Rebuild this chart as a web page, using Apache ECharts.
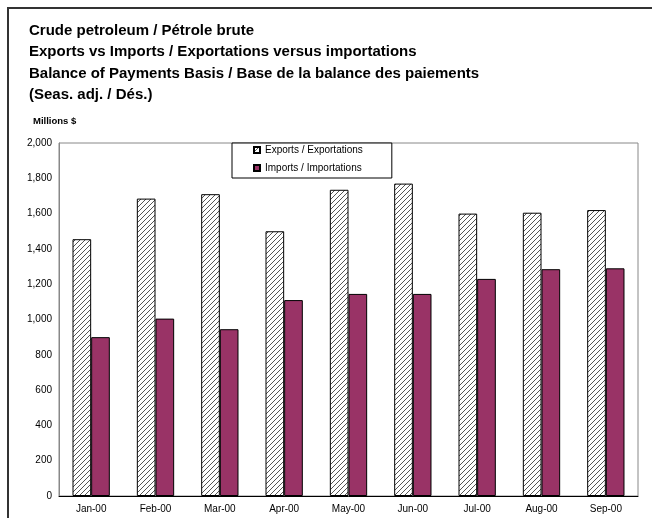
<!DOCTYPE html>
<html>
<head>
<meta charset="utf-8">
<script src="https://cdn.jsdelivr.net/npm/echarts@6/dist/echarts.min.js"></script>
<style>
  html, body { margin: 0; padding: 0; background: #fff; }
  #main { width: 652px; height: 518px; }
</style>
</head>
<body>
<div id="main"></div>
<script>
var months = ['Jan-00', 'Feb-00', 'Mar-00', 'Apr-00', 'May-00', 'Jun-00', 'Jul-00', 'Aug-00', 'Sep-00'];
var exportsData = [1455, 1685, 1710, 1500, 1735, 1770, 1600, 1605, 1620];
var importsData = [900, 1005, 945, 1110, 1145, 1145, 1230, 1285, 1290];
var seriesNames = ['Exports / Exportations', 'Imports / Importations'];
var yMin = 0, yMax = 2000, yStep = 200;

var font = '"Liberation Sans", Arial, sans-serif';

// little hatch tile for the exports bars
function hatch() {
  var s = 5;
  var c = document.createElement('canvas');
  c.width = s; c.height = s;
  var ctx = c.getContext('2d');
  ctx.fillStyle = '#fff';
  ctx.fillRect(0, 0, s, s);
  ctx.strokeStyle = '#555';
  ctx.lineWidth = 1;
  ctx.beginPath();
  ctx.moveTo(0, s); ctx.lineTo(s, 0);
  ctx.moveTo(-1, 1); ctx.lineTo(1, -1);
  ctx.moveTo(s - 1, s + 1); ctx.lineTo(s + 1, s - 1);
  ctx.stroke();
  return c;
}

var myChart = echarts.init(document.getElementById('main'));
var option = {
  animation: false,
  title: {
    text: 'Crude petroleum / Pétrole brute\nExports vs Imports / Exportations versus importations\nBalance of Payments Basis / Base de la balance des paiements\n(Seas. adj. / Dés.)',
    left: 29,
    top: 20,
    padding: 0,
    textStyle: {
      fontFamily: font,
      fontSize: 15,
      fontWeight: 'bold',
      color: '#000',
      lineHeight: 21.5
    }
  },
  graphic: [{
    type: 'rect',
    shape: { x: 8, y: 8, width: 700, height: 600 },
    style: { fill: 'none', stroke: '#333', lineWidth: 2 },
    silent: true
  }, {
    type: 'text',
    left: 33,
    top: 116,
    style: { text: 'Millions $', font: 'bold 9.5px ' + font, fill: '#000' }
  }],
  legend: {
    data: seriesNames,
    orient: 'vertical',
    left: 232,
    top: 143,
    padding: [2, 29, 5, 21],
    itemWidth: 6,
    itemHeight: 6,
    itemGap: 8,
    borderColor: '#000',
    borderWidth: 1,
    backgroundColor: '#fff',
    icon: 'rect',
    z: 10,
    textStyle: { fontFamily: font, fontSize: 10, color: '#000' }
  },
  grid: {
    left: 59,
    right: 14,
    top: 143,
    bottom: 22,
    show: true,
    borderColor: '#888',
    borderWidth: 1
  },
  xAxis: {
    type: 'category',
    data: months,
    axisLine: { lineStyle: { color: '#000', width: 1 } },
    axisTick: { length: 4, lineStyle: { color: '#000' } },
    axisLabel: { fontFamily: font, fontSize: 10, color: '#000', margin: 8 }
  },
  yAxis: {
    type: 'value',
    min: yMin,
    max: yMax,
    interval: yStep,
    axisLine: { show: true, lineStyle: { color: '#888' } },
    axisTick: { show: false },
    splitLine: { show: false },
    axisLabel: {
      fontFamily: font,
      fontSize: 10,
      color: '#000',
      margin: 7,
      formatter: function (v) { return v.toLocaleString('en-US'); }
    }
  },
  series: [{
    name: seriesNames[0],
    type: 'bar',
    data: exportsData,
    barWidth: '29%',
    barGap: '0%',
    itemStyle: {
      color: { image: hatch(), repeat: 'repeat' },
      borderColor: '#000',
      borderWidth: 1
    }
  }, {
    name: seriesNames[1],
    type: 'bar',
    data: importsData,
    barWidth: '29%',
    barGap: '0%',
    itemStyle: {
      color: '#993366',
      borderColor: '#000',
      borderWidth: 1
    }
  }]
};
myChart.setOption(option);
</script>
</body>
</html>
